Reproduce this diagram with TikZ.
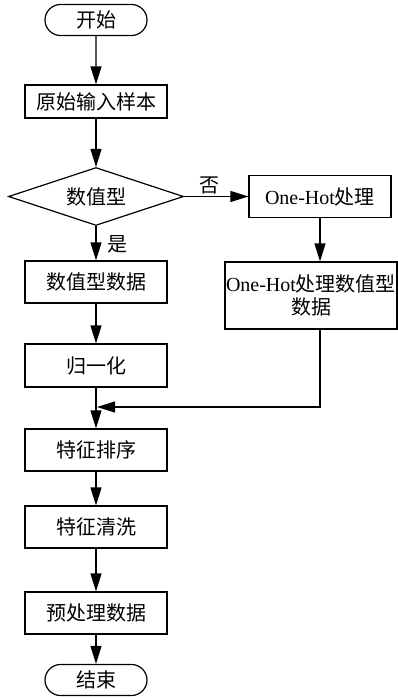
\documentclass[tikz,border=0pt]{standalone}
\usepackage{fontspec}
\setmainfont{Liberation Serif}
\newfontfamily\cjk{Noto Sans CJK SC}
\usetikzlibrary{arrows.meta,shapes.geometric,shapes.misc}
\begin{document}
\begin{tikzpicture}[x=1pt,y=-1pt,
  every node/.style={font=\fontsize{20}{23}\selectfont},
  proc/.style={draw,line width=1.2pt,minimum width=142pt,minimum height=42pt,inner sep=0pt},
  term/.style={draw,line width=1.2pt,rounded rectangle,minimum width=102pt,minimum height=31pt,inner sep=0pt},
  dec/.style={draw,line width=1.2pt,diamond,shape aspect=3,minimum width=175pt,minimum height=58pt,inner sep=0pt},
  arr/.style={line width=1.2pt,-{Triangle[length=18pt,width=11pt]}},
  lbl/.style={inner sep=0pt}]
\useasboundingbox (0,0) rectangle (398,698);
\node[term] (start) at (96,20) {\cjk 开始};
\node[proc,minimum height=33pt] (input) at (96,101.5) {\cjk 原始输入样本};
\node[dec] (dec) at (96,196.5) {\cjk 数值型};
\node[proc] (oh) at (320,196.5) {One-Hot{\cjk 处理}};
\node[proc,minimum width=172pt,minimum height=67pt,align=center] (ohd) at (311,295.5) {One-Hot{\cjk 处理数值型}\\{\cjk 数据}};
\node[proc] (num) at (96,282) {\cjk 数值型数据};
\node[proc,minimum height=43pt] (norm) at (96,365.5) {\cjk 归一化};
\node[proc] (sort) at (96,450) {\cjk 特征排序};
\node[proc] (clean) at (96,527) {\cjk 特征清洗};
\node[proc] (prep) at (96,613) {\cjk 预处理数据};
\node[term] (end) at (96,680) {\cjk 结束};
\coordinate (merge) at (97,407);
\node[lbl] (yes) at (117,244) {\cjk 是};
\node[lbl] (no) at (209,185) {\cjk 否};
\draw[arr] (start) -- (input);
\draw[arr] (input) -- (dec);
\draw[arr] (dec) -- (oh);
\draw[arr] (dec) -- (num);
\draw[arr] (oh.south) -- (oh.south |- ohd.north);
\draw[arr] (num) -- (norm);
\draw[arr] (norm) -- (sort);
\draw[arr] (ohd.south -| oh.south) |- (merge);
\draw[arr] (sort) -- (clean);
\draw[arr] (clean) -- (prep);
\draw[arr] (prep) -- (end);
\end{tikzpicture}
\end{document}
